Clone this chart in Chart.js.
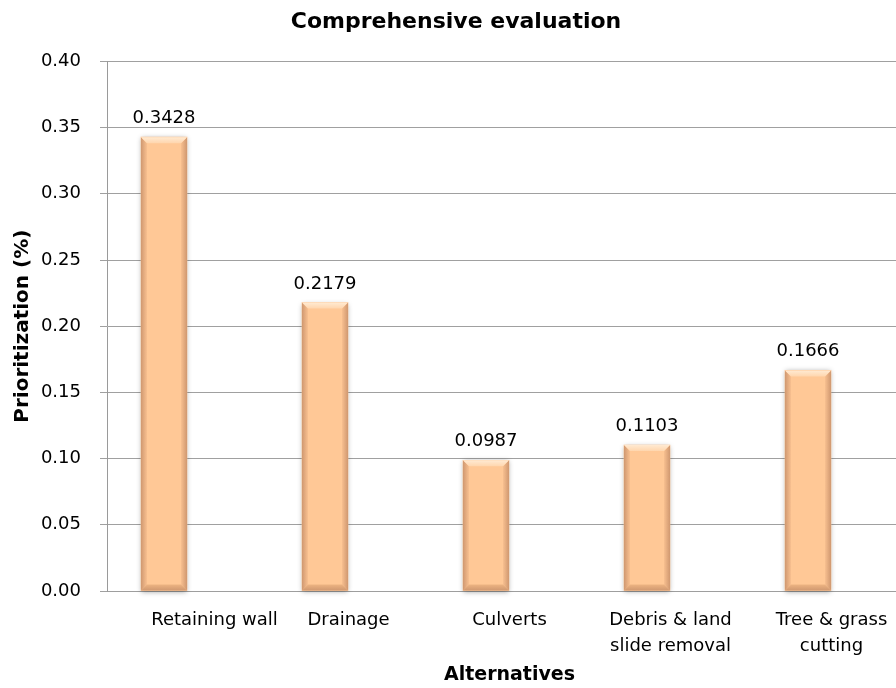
<!DOCTYPE html>
<html>
<head>
<meta charset="utf-8">
<script src="https://cdn.jsdelivr.net/npm/chart.js@4.4.1/dist/chart.umd.min.js"></script>
<style>
  html, body { margin: 0; padding: 0; background: #ffffff; overflow: hidden; }
  #wrap { width: 912px; height: 688px; }
</style>
</head>
<body>
<div id="wrap"><canvas id="chart" width="912" height="688"></canvas></div>
<script>
// Alternatives and their comprehensive priority weights
const categories = [
  ['Retaining wall'],
  ['Drainage'],
  ['Culverts'],
  ['Debris & land', 'slide removal'],
  ['Tree & grass', 'cutting']
];
const priorities = [0.3428, 0.2179, 0.0987, 0.1103, 0.1666];
const yTicks = [0, 0.05, 0.10, 0.15, 0.20, 0.25, 0.30, 0.35, 0.40];

const FONT = "'DejaVu Sans', Verdana, sans-serif";
const BAR_FILL = '#FFC896';
// Columns sit in the left half of each category band (clustered layout)
const BAR_SHIFT = -0.146;
// The first category label is nudged to the right inside its band
const FIRST_LABEL_NUDGE = 0.168;

// Soft drop shadow behind each bar
const barShadow = {
  id: 'barShadow',
  beforeDatasetsDraw(chart) {
    const ctx = chart.ctx;
    chart.getDatasetMeta(0).data.forEach(bar => {
      const p = bar.getProps(['x', 'y', 'base', 'width'], true);
      ctx.save();
      ctx.shadowColor = 'rgba(0,0,0,0.35)';
      ctx.shadowBlur = 5;
      ctx.shadowOffsetX = 0;
      ctx.shadowOffsetY = 1;
      ctx.fillStyle = BAR_FILL;
      ctx.fillRect(p.x - p.width / 2, p.y, p.width, p.base - p.y);
      ctx.restore();
    });
  }
};

// Bevelled edges on the bars plus the value labels above them
const barBevel = {
  id: 'barBevel',
  afterDatasetsDraw(chart) {
    const ctx = chart.ctx;
    chart.getDatasetMeta(0).data.forEach((bar, i) => {
      const p = bar.getProps(['x', 'y', 'base', 'width'], true);
      const l = p.x - p.width / 2, r = p.x + p.width / 2, t = p.y, b = p.base;
      const bv = 6;
      ctx.save();
      // left edge
      let g = ctx.createLinearGradient(l, 0, l + bv, 0);
      g.addColorStop(0, '#D09870');
      g.addColorStop(1, '#F8C090');
      ctx.fillStyle = g;
      ctx.beginPath();
      ctx.moveTo(l, t); ctx.lineTo(l + bv, t + bv); ctx.lineTo(l + bv, b - bv); ctx.lineTo(l, b);
      ctx.closePath(); ctx.fill();
      // right edge
      g = ctx.createLinearGradient(r, 0, r - bv, 0);
      g.addColorStop(0, '#D09870');
      g.addColorStop(1, '#F8C090');
      ctx.fillStyle = g;
      ctx.beginPath();
      ctx.moveTo(r, t); ctx.lineTo(r - bv, t + bv); ctx.lineTo(r - bv, b - bv); ctx.lineTo(r, b);
      ctx.closePath(); ctx.fill();
      // top edge
      g = ctx.createLinearGradient(0, t, 0, t + bv);
      g.addColorStop(0, '#FFEAD2');
      g.addColorStop(1, '#FFD6AE');
      ctx.fillStyle = g;
      ctx.beginPath();
      ctx.moveTo(l, t); ctx.lineTo(r, t); ctx.lineTo(r - bv, t + bv); ctx.lineTo(l + bv, t + bv);
      ctx.closePath(); ctx.fill();
      // bottom edge
      g = ctx.createLinearGradient(0, b - bv, 0, b);
      g.addColorStop(0, '#EDB482');
      g.addColorStop(1, '#D09870');
      ctx.fillStyle = g;
      ctx.beginPath();
      ctx.moveTo(l, b); ctx.lineTo(r, b); ctx.lineTo(r - bv, b - bv); ctx.lineTo(l + bv, b - bv);
      ctx.closePath(); ctx.fill();

      // value label
      ctx.fillStyle = '#000000';
      ctx.font = '18px ' + FONT;
      ctx.textAlign = 'center';
      ctx.textBaseline = 'alphabetic';
      ctx.fillText(priorities[i].toFixed(4), p.x, t - 14);
      ctx.restore();
    });
  }
};

new Chart(document.getElementById('chart'), {
  type: 'bar',
  data: {
    datasets: [{
      data: priorities.map((v, i) => ({ x: i + BAR_SHIFT, y: v })),
      backgroundColor: BAR_FILL,
      borderWidth: 0,
      barThickness: 46
    }]
  },
  options: {
    responsive: false,
    animation: false,
    events: [],
    layout: { padding: 0 },
    plugins: {
      legend: { display: false },
      tooltip: { enabled: false },
      title: {
        display: true,
        text: 'Comprehensive evaluation',
        color: '#000000',
        font: { family: FONT, size: 22, weight: 'bold', lineHeight: 1.2 },
        padding: { top: 9, bottom: 26 }
      }
    },
    scales: {
      x: {
        type: 'linear',
        offset: false,
        min: -0.5,
        max: categories.length - 0.5,
        afterBuildTicks(scale) {
          scale.ticks = categories.map((c, i) => ({ value: i + (i === 0 ? FIRST_LABEL_NUDGE : 0) }));
        },
        afterFit(scale) { scale.height = 97; },
        grid: { display: false, drawTicks: false, offset: false },
        border: { display: true, color: '#9E9E9E', width: 1 },
        ticks: {
          autoSkip: false,
          maxRotation: 0,
          minRotation: 0,
          padding: 16,
          color: '#000000',
          font: { family: FONT, size: 18, lineHeight: 1.45 },
          callback: (v, idx) => categories[idx]
        },
        title: {
          display: true,
          text: 'Alternatives',
          color: '#000000',
          font: { family: FONT, size: 19, weight: 'bold', lineHeight: 1.2 },
          padding: { top: 0, bottom: 2 }
        }
      },
      y: {
        min: 0,
        max: 0.4,
        afterBuildTicks(scale) {
          scale.ticks = yTicks.map(v => ({ value: v }));
        },
        afterFit(scale) { scale.width = 107; },
        grid: { color: '#A0A0A0', lineWidth: 1, drawTicks: true, tickLength: 7 },
        border: { display: true, color: '#9A9A9A', width: 1 },
        ticks: {
          padding: 19,
          color: '#000000',
          font: { family: FONT, size: 18 },
          callback: v => v.toFixed(2)
        },
        title: {
          display: true,
          text: 'Prioritization (%)',
          color: '#000000',
          font: { family: FONT, size: 20, weight: 'bold', lineHeight: 1.2 },
          padding: { top: 11, bottom: 0 }
        }
      }
    }
  },
  plugins: [barShadow, barBevel]
});
</script>
</body>
</html>
